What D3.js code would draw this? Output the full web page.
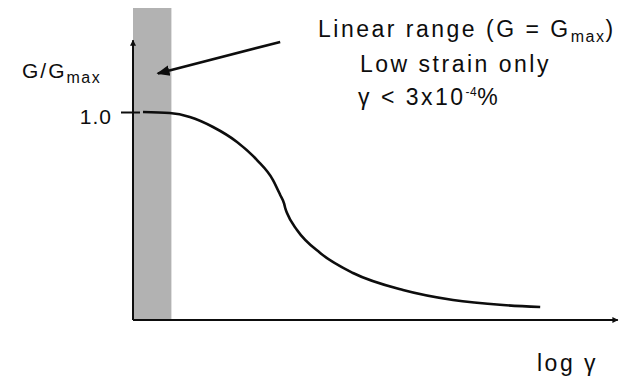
<!DOCTYPE html>
<html>
<head>
<meta charset="utf-8">
<script src="https://cdn.jsdelivr.net/npm/d3@7"></script>
<style>
  body { margin: 0; background: #fff; }
  svg { display: block; font-family: 'Liberation Sans', Arial, sans-serif; }
</style>
</head>
<body>
<svg id="chart" width="631" height="382"></svg>
<script>
// G/Gmax against log strain
const logStrain = [-3.875, -3.54, -3.29, -3.0, -2.7, -2.45, -2.25, -2.16, -2.11, -2.095, -2.075, -1.95, -1.66, -1.25, -0.625, 0.0, 0.625, 1.09]
const modulusRatio = [1.0, 0.995, 0.976, 0.928, 0.856, 0.769, 0.673, 0.601, 0.558, 0.535, 0.514, 0.433, 0.322, 0.226, 0.144, 0.096, 0.072, 0.0625]

const linearRange = [-4, -3.52]
const yTicks = [1.0]
const yTickLabels = ['1.0']
const xAxisEnd = 2.06
const yAxisTop = 1.345

const svg = d3.select('#chart')

const x = d3.scaleLinear().domain([-4, 2]).range([133, 613])
const y = d3.scaleLinear().domain([0, 1.5]).range([320, 8])

const ink = '#0d0d0d'

const defs = svg.append('defs')
defs.append('marker')
    .attr('id', 'head')
    .attr('viewBox', '0 0 10 10')
    .attr('refX', 9)
    .attr('refY', 5)
    .attr('markerWidth', 5)
    .attr('markerHeight', 5)
    .attr('markerUnits', 'strokeWidth')
    .attr('orient', 'auto')
    .append('path')
    .attr('d', 'M0,1 L10,5 L0,9 Z')
    .attr('fill', ink)

defs.append('marker')
    .attr('id', 'smallhead')
    .attr('viewBox', '0 0 10 10')
    .attr('refX', 9)
    .attr('refY', 5)
    .attr('markerWidth', 4)
    .attr('markerHeight', 3)
    .attr('markerUnits', 'strokeWidth')
    .attr('orient', 'auto')
    .append('path')
    .attr('d', 'M0,0 L10,5 L0,10 Z')
    .attr('fill', ink)

// shaded linear range
svg.append('rect')
    .attr('x', x(linearRange[0]))
    .attr('y', y(1.5))
    .attr('width', x(linearRange[1]) - x(linearRange[0]))
    .attr('height', y(0) - y(1.5))
    .attr('fill', '#b2b2b2')

// axes
svg.append('line')
    .attr('x1', x(-4)).attr('y1', y(0))
    .attr('x2', x(xAxisEnd)).attr('y2', y(0))
    .attr('stroke', ink).attr('stroke-width', 2)
    .attr('marker-end', 'url(#smallhead)')

svg.append('line')
    .attr('x1', x(-4)).attr('y1', y(0))
    .attr('x2', x(-4)).attr('y2', y(yAxisTop))
    .attr('stroke', ink).attr('stroke-width', 2)
    .attr('marker-end', 'url(#smallhead)')

const yAxis = svg.append('g')
    .attr('transform', `translate(${x(-4)},0)`)
    .call(d3.axisLeft(y)
        .tickValues(yTicks)
        .tickFormat((d, i) => yTickLabels[i])
        .tickSize(12)
        .tickPadding(9))
yAxis.select('.domain').remove()
yAxis.selectAll('.tick line')
    .attr('x1', 7)
    .attr('stroke', ink)
    .attr('stroke-width', 2)
yAxis.selectAll('.tick text')
    .attr('font-size', 21)
    .attr('font-family', null)
    .attr('fill', ink)
    .attr('letter-spacing', 1)
    .attr('dy', '0.55em')

// curve
const line = d3.line()
    .x((d, i) => x(logStrain[i]))
    .y(d => y(d))
    .curve(d3.curveMonotoneX)

svg.append('path')
    .datum(modulusRatio)
    .attr('d', line)
    .attr('fill', 'none')
    .attr('stroke', ink)
    .attr('stroke-width', 2.6)

// annotation arrow
svg.append('line')
    .attr('x1', x(-2.16)).attr('y1', y(1.337))
    .attr('x2', x(-3.69)).attr('y2', y(1.185))
    .attr('stroke', ink).attr('stroke-width', 2.6)
    .attr('marker-end', 'url(#head)')

// labels
const yLabel = svg.append('text')
    .attr('x', 22).attr('y', 78)
    .attr('font-size', 21)
    .attr('fill', ink)
    .attr('letter-spacing', 2)
yLabel.append('tspan').text('G/G')
yLabel.append('tspan').text('max').attr('font-size', 16).attr('dy', 5).attr('letter-spacing', 1.5)

svg.append('text')
    .attr('x', 537).attr('y', 371)
    .attr('font-size', 23)
    .attr('fill', ink)
    .attr('letter-spacing', 2.5)
    .text('log γ')

const note1 = svg.append('text')
    .attr('x', 318).attr('y', 37)
    .attr('font-size', 23)
    .attr('fill', ink)
    .attr('letter-spacing', 2.5)
note1.append('tspan').text('Linear range (G = G')
note1.append('tspan').text('max').attr('font-size', 16).attr('dy', 5).attr('letter-spacing', 1.5)
note1.append('tspan').text(')').attr('dy', -5)

svg.append('text')
    .attr('x', 360).attr('y', 72)
    .attr('font-size', 23)
    .attr('fill', ink)
    .attr('letter-spacing', 2.5)
    .text('Low strain only')

const note3 = svg.append('text')
    .attr('x', 358).attr('y', 105)
    .attr('font-size', 23)
    .attr('fill', ink)
    .attr('letter-spacing', 2.5)
note3.append('tspan').text('γ < 3x10')
note3.append('tspan').text('-4').attr('font-size', 12).attr('dy', -9).attr('letter-spacing', 0.5)
note3.append('tspan').text('%').attr('dy', 9)
</script>
</body>
</html>
